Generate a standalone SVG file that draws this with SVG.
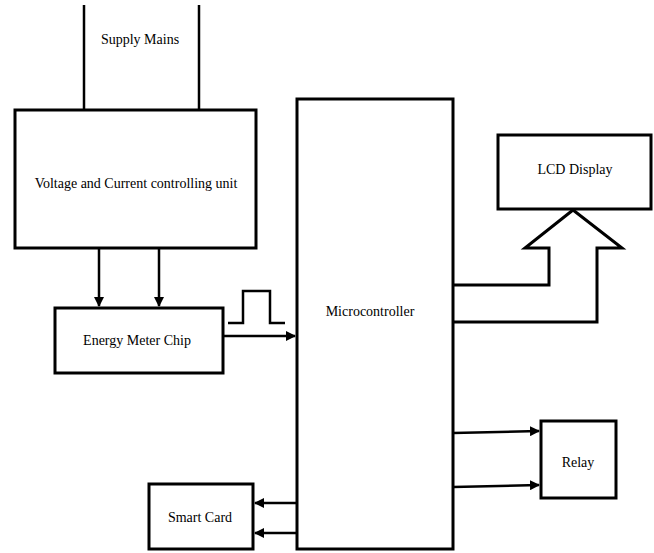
<svg xmlns="http://www.w3.org/2000/svg" width="654" height="553" viewBox="0 0 654 553">
<defs>
<style>
.box{fill:#fff;stroke:#000;stroke-width:3}
.ln{fill:none;stroke:#000;stroke-width:2.5}
.t{font-family:'Liberation Serif','DejaVu Serif',serif;font-size:14px;fill:#000;text-anchor:middle}
</style>
<marker id="ah" viewBox="0 0 10 10" refX="9" refY="5" markerWidth="4" markerHeight="4" orient="auto" markerUnits="strokeWidth">
<path d="M0,0 L10,5 L0,10 z" fill="#000"/>
</marker>
</defs>
<rect width="654" height="553" fill="#fff"/>
<g id="connectors">
<line class="ln" x1="84" y1="5" x2="84" y2="110"/>
<line class="ln" x1="199" y1="5" x2="199" y2="110"/>
<line class="ln" x1="99" y1="248" x2="99" y2="306" marker-end="url(#ah)"/>
<line class="ln" x1="159" y1="248" x2="159" y2="306" marker-end="url(#ah)"/>
<polyline class="ln" points="228,323 243,323 243,291 270,291 270,323 285,323" stroke-width="2"/>
<line class="ln" x1="223" y1="336" x2="295" y2="336" marker-end="url(#ah)"/>
<polyline class="box" points="453,285 549,285 549,248 525,248 573,210 622,248 597,248 597,322 453,322"/>
<line class="ln" x1="453" y1="433" x2="539" y2="431" marker-end="url(#ah)"/>
<line class="ln" x1="453" y1="487" x2="539" y2="485" marker-end="url(#ah)"/>
<line class="ln" x1="297" y1="503" x2="255" y2="503" marker-end="url(#ah)"/>
<line class="ln" x1="297" y1="533" x2="255" y2="533" marker-end="url(#ah)"/>
</g>
<g id="supply">
<text class="t" x="140" y="44" font-family="Liberation Serif, serif">Supply Mains</text>
</g>
<g id="vc-unit">
<rect class="box" x="15" y="110" width="241" height="138"/>
<text class="t" x="136" y="188" font-family="Liberation Serif, serif">Voltage and Current controlling unit</text>
</g>
<g id="energy-meter">
<rect class="box" x="55" y="308" width="168" height="65"/>
<text class="t" x="137" y="345" font-family="Liberation Serif, serif">Energy Meter Chip</text>
</g>
<g id="microcontroller">
<rect class="box" x="297" y="99" width="156" height="450"/>
<text class="t" x="370" y="316" font-family="Liberation Serif, serif">Microcontroller</text>
</g>
<g id="lcd">
<rect class="box" x="498" y="135" width="153" height="74"/>
<text class="t" x="575" y="174" font-family="Liberation Serif, serif">LCD Display</text>
</g>
<g id="relay">
<rect class="box" x="541" y="421" width="75" height="77"/>
<text class="t" x="578" y="467" font-family="Liberation Serif, serif">Relay</text>
</g>
<g id="smart-card">
<rect class="box" x="149" y="484" width="104" height="65"/>
<text class="t" x="200" y="522" font-family="Liberation Serif, serif">Smart Card</text>
</g>
</svg>
